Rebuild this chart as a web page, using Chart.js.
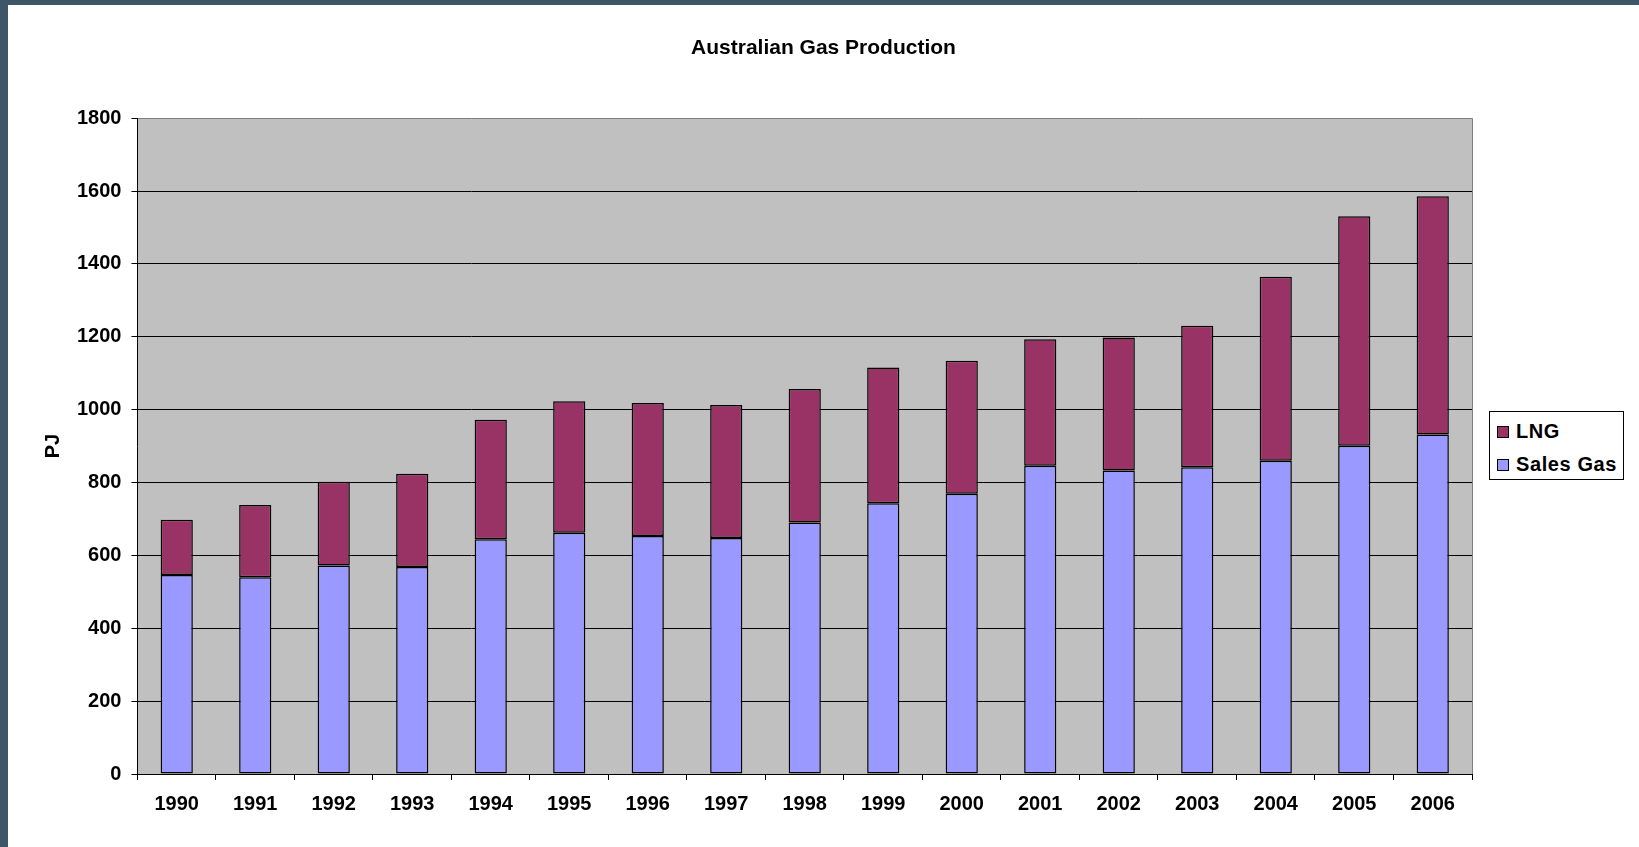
<!DOCTYPE html>
<html>
<head>
<meta charset="utf-8">
<title>Australian Gas Production</title>
<script src="https://cdn.jsdelivr.net/npm/chart.js@4.4.1/dist/chart.umd.min.js"></script>
<style>
  html, body { margin: 0; padding: 0; background: #fff; }
  body { width: 1639px; height: 847px; overflow: hidden; position: relative; font-family: "Liberation Sans", Arial, sans-serif; }
  .frame-top { position: absolute; left: 0; top: 0; width: 1639px; height: 5px; background: #3e5667; }
  .frame-left { position: absolute; left: 0; top: 0; width: 8px; height: 847px; background: #3e5667; }
  #wrap { position: absolute; left: 8px; top: 5px; width: 1631px; height: 842px; }
  #legend {
    position: absolute; left: 1481px; top: 406px; width: 135px; height: 69px;
    box-sizing: border-box; border: 1px solid #000; background: #fff; padding: 3px 0 0 7px;
  }
  #legend .item { height: 33px; display: flex; align-items: center; font-weight: bold; font-size: 20px; letter-spacing: 0.6px; color: #000; white-space: nowrap; }
  #legend .swatch { width: 12px; height: 12px; box-sizing: border-box; border: 1px solid #000; margin-right: 7px; }
</style>
</head>
<body>
<div class="frame-top"></div>
<div class="frame-left"></div>
<div id="wrap">
  <canvas id="gasChart"></canvas>
  <div id="legend"></div>
</div>
<script>
"use strict";

// Data (PJ)
const years = ['1990', '1991', '1992', '1993', '1994', '1995', '1996', '1997', '1998',
               '1999', '2000', '2001', '2002', '2003', '2004', '2005', '2006'];
const salesGas = [546, 540, 572, 568, 644, 662, 653, 648, 690, 743, 769, 846, 833, 842, 860, 901, 932];
const lng = [152, 198, 230, 256, 328, 361, 365, 365, 367, 373, 365, 347, 365, 388, 505, 630, 654];
const yTicks = [0, 200, 400, 600, 800, 1000, 1200, 1400, 1600, 1800];

const FONT = '"Liberation Sans", Arial, sans-serif';

// grey plot background + grey right edge, like the old Excel chart
const plotArea = {
    id: 'plotArea',
    beforeDraw(chart) {
        const { ctx, chartArea: a } = chart;
        ctx.save();
        ctx.fillStyle = '#c0c0c0';
        ctx.fillRect(a.left, a.top, a.right - a.left, a.bottom - a.top);
        ctx.restore();
    },
    afterDraw(chart) {
        const { ctx, chartArea: a } = chart;
        ctx.save();
        ctx.strokeStyle = '#808080';
        ctx.lineWidth = 1;
        ctx.beginPath();
        ctx.moveTo(Math.round(a.right) + 0.5, a.top);
        ctx.lineTo(Math.round(a.right) + 0.5, a.bottom);
        ctx.stroke();
        ctx.restore();
    }
};

const ctx = document.getElementById('gasChart').getContext('2d');
const gasChart = new Chart(ctx, {
    type: 'bar',
    data: {
        labels: years,
        datasets: [{
            label: 'Sales Gas',
            data: salesGas,
            backgroundColor: '#9999ff',
            borderColor: '#000',
            borderWidth: 1.5,
            borderSkipped: false
        }, {
            label: 'LNG',
            data: lng,
            backgroundColor: '#993366',
            borderColor: '#000',
            borderWidth: 1.5,
            borderSkipped: false
        }]
    },
    options: {
        responsive: true,
        maintainAspectRatio: false,
        animation: false,
        layout: { padding: { left: 0, right: 0, top: 0, bottom: 19 } },
        datasets: { bar: { barPercentage: 0.41, categoryPercentage: 1 } },
        plugins: {
            legend: { display: false },
            tooltip: { enabled: true },
            title: {
                display: true,
                text: 'Australian Gas Production',
                color: '#000',
                font: { family: FONT, size: 21, weight: 'bold' },
                padding: { top: 31, bottom: 57 }
            }
        },
        scales: {
            x: {
                stacked: true,
                grid: { display: true, drawOnChartArea: false, tickLength: 6, color: '#000', offset: true },
                border: { color: '#000', width: 1 },
                ticks: { color: '#000', padding: 12, font: { family: FONT, size: 20, weight: 'bold' } }
            },
            y: {
                stacked: true,
                min: yTicks[0],
                max: yTicks[yTicks.length - 1],
                afterBuildTicks(axis) { axis.ticks = yTicks.map(v => ({ value: v })); },
                grid: {
                    tickLength: 6,
                    tickColor: '#000',
                    color: (c) => (c.tick && c.tick.value === 1800 ? '#808080' : '#000')
                },
                border: { color: '#000', width: 1 },
                ticks: {
                    color: '#000', padding: 10,
                    font: { family: FONT, size: 20, weight: 'bold' },
                    callback: (v) => String(v)
                },
                title: {
                    display: true,
                    text: 'PJ',
                    color: '#000',
                    font: { family: FONT, size: 20, weight: 'bold' },
                    padding: { top: 33, bottom: 2 }
                }
            },
            // empty right-hand axis: keeps room for the legend box without shifting the title
            legendSpace: {
                type: 'linear',
                position: 'right',
                display: true,
                grid: { display: false },
                border: { display: false },
                ticks: { display: false },
                afterFit(axis) { axis.width = 167; }
            }
        }
    },
    plugins: [plotArea]
});

// Legend box (LNG listed first, as in the original)
const legendEl = document.getElementById('legend');
gasChart.data.datasets.slice().reverse().forEach(ds => {
    const item = document.createElement('div');
    item.className = 'item';
    const sw = document.createElement('span');
    sw.className = 'swatch';
    sw.style.background = ds.backgroundColor;
    item.appendChild(sw);
    item.appendChild(document.createTextNode(ds.label));
    legendEl.appendChild(item);
});
</script>
</body>
</html>
